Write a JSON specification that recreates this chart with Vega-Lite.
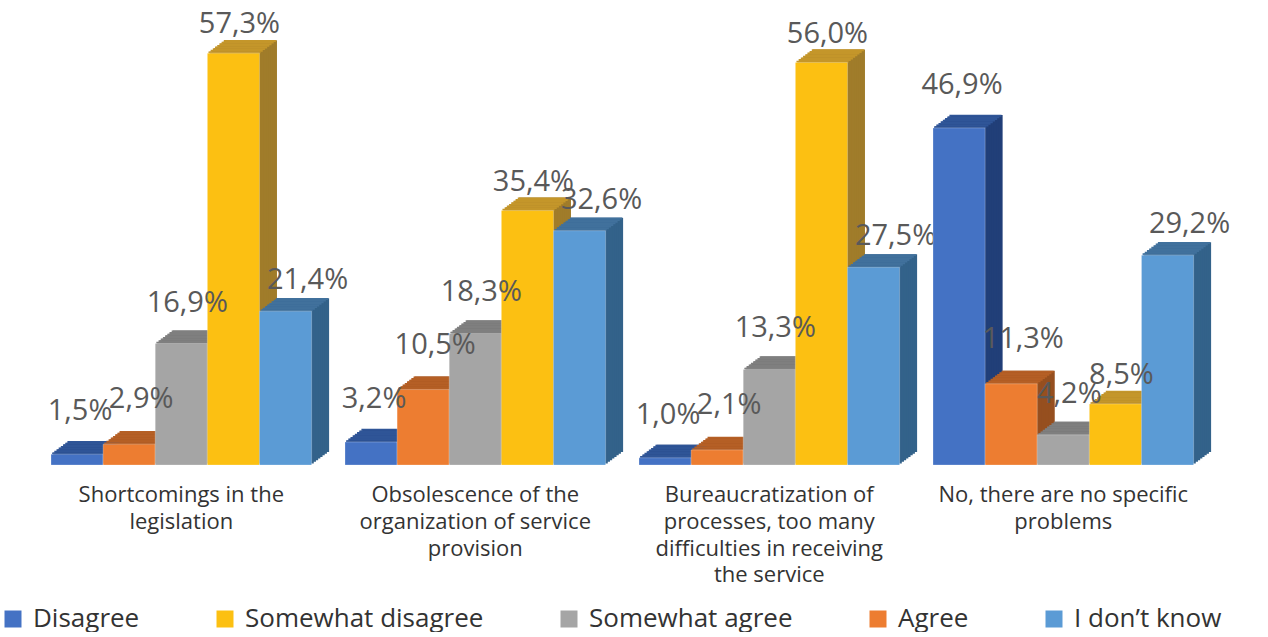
{
  "$schema": "https://vega.github.io/schema/vega-lite/v6.json",
  "padding": {"left": 0, "top": 5, "right": 5, "bottom": 0},
  "bounds": "flush",
  "config": {
    "view": {"stroke": null},
    "font": "Open Sans",
    "locale": {"number": {"decimal": ",", "thousands": ".", "grouping": [3], "currency": ["", " €"]}}
  },
  "data": {"values": [
    {"category": "Shortcomings in the legislation", "series": "Disagree", "value": 0.015},
    {"category": "Shortcomings in the legislation", "series": "Agree", "value": 0.029},
    {"category": "Shortcomings in the legislation", "series": "Somewhat agree", "value": 0.169},
    {"category": "Shortcomings in the legislation", "series": "Somewhat disagree", "value": 0.573},
    {"category": "Shortcomings in the legislation", "series": "I don’t know", "value": 0.214},
    {"category": "Obsolescence of the organization of service provision", "series": "Disagree", "value": 0.032},
    {"category": "Obsolescence of the organization of service provision", "series": "Agree", "value": 0.105},
    {"category": "Obsolescence of the organization of service provision", "series": "Somewhat agree", "value": 0.183},
    {"category": "Obsolescence of the organization of service provision", "series": "Somewhat disagree", "value": 0.354},
    {"category": "Obsolescence of the organization of service provision", "series": "I don’t know", "value": 0.326},
    {"category": "Bureaucratization of processes, too many difficulties in receiving the service", "series": "Disagree", "value": 0.010},
    {"category": "Bureaucratization of processes, too many difficulties in receiving the service", "series": "Agree", "value": 0.021},
    {"category": "Bureaucratization of processes, too many difficulties in receiving the service", "series": "Somewhat agree", "value": 0.133},
    {"category": "Bureaucratization of processes, too many difficulties in receiving the service", "series": "Somewhat disagree", "value": 0.560},
    {"category": "Bureaucratization of processes, too many difficulties in receiving the service", "series": "I don’t know", "value": 0.275},
    {"category": "No, there are no specific problems", "series": "Disagree", "value": 0.469},
    {"category": "No, there are no specific problems", "series": "Agree", "value": 0.113},
    {"category": "No, there are no specific problems", "series": "Somewhat agree", "value": 0.042},
    {"category": "No, there are no specific problems", "series": "Somewhat disagree", "value": 0.085},
    {"category": "No, there are no specific problems", "series": "I don’t know", "value": 0.292}
  ]},
  "facet": {
    "column": {
      "field": "category", "type": "nominal", "title": null,
      "sort": ["Shortcomings in the legislation", "Obsolescence of the organization of service provision", "Bureaucratization of processes, too many difficulties in receiving the service", "No, there are no specific problems"],
      "header": {
        "labelOrient": "bottom", "labelFontSize": 22, "labelColor": "#333333", "labelFont": "Open Sans",
        "labelPadding": 20, "labelLineHeight": 26.8, "labelBaseline": "top",
        "labelExpr": "datum.value === 'Shortcomings in the legislation' ? ['Shortcomings in the', 'legislation'] : datum.value === 'Obsolescence of the organization of service provision' ? ['Obsolescence of the', 'organization of service', 'provision'] : datum.value === 'Bureaucratization of processes, too many difficulties in receiving the service' ? ['Bureaucratization of', 'processes, too many', 'difficulties in receiving', 'the service'] : ['No, there are no specific', 'problems']"
      }
    }
  },
  "spacing": 33,
  "spec": {
    "width": 260.6,
    "height": 460,
    "encoding": {
      "x": {"field": "series", "type": "nominal", "axis": null,
        "scale": {"domain": ["Disagree", "Agree", "Somewhat agree", "Somewhat disagree", "I don’t know"], "paddingInner": 0, "paddingOuter": 0}},
      "y": {"field": "value", "type": "quantitative", "axis": null, "scale": {"domain": [0, 0.64], "nice": false}}
    },
    "layer": [
      {"mark": {"type": "bar", "opacity": 1, "xOffset": 17.5, "yOffset": -13, "y2Offset": -13}, "encoding": {"color": {"condition": [{"test": "datum.series==='Disagree'", "value": "#213F78"}, {"test": "datum.series==='Agree'", "value": "#964F1F"}, {"test": "datum.series==='Somewhat agree'", "value": "#6B6B6B"}, {"test": "datum.series==='Somewhat disagree'", "value": "#A07C2A"}], "value": "#33628A"}}},
      {"mark": {"type": "bar", "opacity": 1, "xOffset": 15.3125, "yOffset": -11.375, "y2Offset": -11.375}, "encoding": {"color": {"condition": [{"test": "datum.series==='Disagree'", "value": "#213F78"}, {"test": "datum.series==='Agree'", "value": "#964F1F"}, {"test": "datum.series==='Somewhat agree'", "value": "#6B6B6B"}, {"test": "datum.series==='Somewhat disagree'", "value": "#A07C2A"}], "value": "#33628A"}}},
      {"mark": {"type": "bar", "opacity": 1, "xOffset": 13.125, "yOffset": -9.75, "y2Offset": -9.75}, "encoding": {"color": {"condition": [{"test": "datum.series==='Disagree'", "value": "#213F78"}, {"test": "datum.series==='Agree'", "value": "#964F1F"}, {"test": "datum.series==='Somewhat agree'", "value": "#6B6B6B"}, {"test": "datum.series==='Somewhat disagree'", "value": "#A07C2A"}], "value": "#33628A"}}},
      {"mark": {"type": "bar", "opacity": 1, "xOffset": 10.9375, "yOffset": -8.125, "y2Offset": -8.125}, "encoding": {"color": {"condition": [{"test": "datum.series==='Disagree'", "value": "#213F78"}, {"test": "datum.series==='Agree'", "value": "#964F1F"}, {"test": "datum.series==='Somewhat agree'", "value": "#6B6B6B"}, {"test": "datum.series==='Somewhat disagree'", "value": "#A07C2A"}], "value": "#33628A"}}},
      {"mark": {"type": "bar", "opacity": 1, "xOffset": 8.75, "yOffset": -6.5, "y2Offset": -6.5}, "encoding": {"color": {"condition": [{"test": "datum.series==='Disagree'", "value": "#213F78"}, {"test": "datum.series==='Agree'", "value": "#964F1F"}, {"test": "datum.series==='Somewhat agree'", "value": "#6B6B6B"}, {"test": "datum.series==='Somewhat disagree'", "value": "#A07C2A"}], "value": "#33628A"}}},
      {"mark": {"type": "bar", "opacity": 1, "xOffset": 6.5625, "yOffset": -4.875, "y2Offset": -4.875}, "encoding": {"color": {"condition": [{"test": "datum.series==='Disagree'", "value": "#213F78"}, {"test": "datum.series==='Agree'", "value": "#964F1F"}, {"test": "datum.series==='Somewhat agree'", "value": "#6B6B6B"}, {"test": "datum.series==='Somewhat disagree'", "value": "#A07C2A"}], "value": "#33628A"}}},
      {"mark": {"type": "bar", "opacity": 1, "xOffset": 4.375, "yOffset": -3.25, "y2Offset": -3.25}, "encoding": {"color": {"condition": [{"test": "datum.series==='Disagree'", "value": "#213F78"}, {"test": "datum.series==='Agree'", "value": "#964F1F"}, {"test": "datum.series==='Somewhat agree'", "value": "#6B6B6B"}, {"test": "datum.series==='Somewhat disagree'", "value": "#A07C2A"}], "value": "#33628A"}}},
      {"mark": {"type": "bar", "opacity": 1, "xOffset": 2.1875, "yOffset": -1.625, "y2Offset": -1.625}, "encoding": {"color": {"condition": [{"test": "datum.series==='Disagree'", "value": "#213F78"}, {"test": "datum.series==='Agree'", "value": "#964F1F"}, {"test": "datum.series==='Somewhat agree'", "value": "#6B6B6B"}, {"test": "datum.series==='Somewhat disagree'", "value": "#A07C2A"}], "value": "#33628A"}}},
      {"mark": {"type": "tick", "orient": "horizontal", "opacity": 1, "size": 52.1, "thickness": 1.9, "xOffset": 16.40625, "yOffset": -12.1875}, "encoding": {"color": {"condition": [{"test": "datum.series==='Disagree'", "value": "#2F5597"}, {"test": "datum.series==='Agree'", "value": "#B55F25"}, {"test": "datum.series==='Somewhat agree'", "value": "#7F7F7F"}, {"test": "datum.series==='Somewhat disagree'", "value": "#C4962A"}], "value": "#41719C"}}},
      {"mark": {"type": "tick", "orient": "horizontal", "opacity": 1, "size": 52.1, "thickness": 1.9, "xOffset": 14.21875, "yOffset": -10.5625}, "encoding": {"color": {"condition": [{"test": "datum.series==='Disagree'", "value": "#2F5597"}, {"test": "datum.series==='Agree'", "value": "#B55F25"}, {"test": "datum.series==='Somewhat agree'", "value": "#7F7F7F"}, {"test": "datum.series==='Somewhat disagree'", "value": "#C4962A"}], "value": "#41719C"}}},
      {"mark": {"type": "tick", "orient": "horizontal", "opacity": 1, "size": 52.1, "thickness": 1.9, "xOffset": 12.03125, "yOffset": -8.9375}, "encoding": {"color": {"condition": [{"test": "datum.series==='Disagree'", "value": "#2F5597"}, {"test": "datum.series==='Agree'", "value": "#B55F25"}, {"test": "datum.series==='Somewhat agree'", "value": "#7F7F7F"}, {"test": "datum.series==='Somewhat disagree'", "value": "#C4962A"}], "value": "#41719C"}}},
      {"mark": {"type": "tick", "orient": "horizontal", "opacity": 1, "size": 52.1, "thickness": 1.9, "xOffset": 9.84375, "yOffset": -7.3125}, "encoding": {"color": {"condition": [{"test": "datum.series==='Disagree'", "value": "#2F5597"}, {"test": "datum.series==='Agree'", "value": "#B55F25"}, {"test": "datum.series==='Somewhat agree'", "value": "#7F7F7F"}, {"test": "datum.series==='Somewhat disagree'", "value": "#C4962A"}], "value": "#41719C"}}},
      {"mark": {"type": "tick", "orient": "horizontal", "opacity": 1, "size": 52.1, "thickness": 1.9, "xOffset": 7.65625, "yOffset": -5.6875}, "encoding": {"color": {"condition": [{"test": "datum.series==='Disagree'", "value": "#2F5597"}, {"test": "datum.series==='Agree'", "value": "#B55F25"}, {"test": "datum.series==='Somewhat agree'", "value": "#7F7F7F"}, {"test": "datum.series==='Somewhat disagree'", "value": "#C4962A"}], "value": "#41719C"}}},
      {"mark": {"type": "tick", "orient": "horizontal", "opacity": 1, "size": 52.1, "thickness": 1.9, "xOffset": 5.46875, "yOffset": -4.0625}, "encoding": {"color": {"condition": [{"test": "datum.series==='Disagree'", "value": "#2F5597"}, {"test": "datum.series==='Agree'", "value": "#B55F25"}, {"test": "datum.series==='Somewhat agree'", "value": "#7F7F7F"}, {"test": "datum.series==='Somewhat disagree'", "value": "#C4962A"}], "value": "#41719C"}}},
      {"mark": {"type": "tick", "orient": "horizontal", "opacity": 1, "size": 52.1, "thickness": 1.9, "xOffset": 3.28125, "yOffset": -2.4375}, "encoding": {"color": {"condition": [{"test": "datum.series==='Disagree'", "value": "#2F5597"}, {"test": "datum.series==='Agree'", "value": "#B55F25"}, {"test": "datum.series==='Somewhat agree'", "value": "#7F7F7F"}, {"test": "datum.series==='Somewhat disagree'", "value": "#C4962A"}], "value": "#41719C"}}},
      {"mark": {"type": "tick", "orient": "horizontal", "opacity": 1, "size": 52.1, "thickness": 1.9, "xOffset": 1.09375, "yOffset": -0.8125}, "encoding": {"color": {"condition": [{"test": "datum.series==='Disagree'", "value": "#2F5597"}, {"test": "datum.series==='Agree'", "value": "#B55F25"}, {"test": "datum.series==='Somewhat agree'", "value": "#7F7F7F"}, {"test": "datum.series==='Somewhat disagree'", "value": "#C4962A"}], "value": "#41719C"}}},
      {"mark": {"type": "bar", "opacity": 1, "stroke": "#ffffff", "strokeOpacity": 0.25, "strokeWidth": 1},
        "encoding": {"color": {"field": "series", "type": "nominal",
          "scale": {"domain": ["Disagree", "Somewhat disagree", "Somewhat agree", "Agree", "I don’t know"], "range": ["#4472C4", "#FCC012", "#A5A5A5", "#ED7D31", "#5B9BD5"]},
          "legend": {"title": null, "orient": "none", "legendX": -51, "legendY": 601, "direction": "horizontal",
            "symbolType": "square", "symbolSize": 289, "symbolStrokeWidth": 0, "symbolOpacity": 1,
            "labelFontSize": 26, "labelFont": "Open Sans", "labelColor": "#333333", "labelOffset": 7, "columnPadding": 72, "padding": 0, "labelLimit": 400}}}},
      {"transform": [{"filter": "datum.series === 'Disagree'"}], "mark": {"type": "text", "fontSize": 29, "font": "Open Sans", "fill": "#595959", "align": "center", "baseline": "alphabetic", "dx": 3, "dy": -34}, "encoding": {"text": {"field": "value", "type": "quantitative", "format": ".1%"}}},
      {"transform": [{"filter": "datum.series === 'Agree'"}], "mark": {"type": "text", "fontSize": 29, "font": "Open Sans", "fill": "#595959", "align": "center", "baseline": "alphabetic", "dx": 12, "dy": -36}, "encoding": {"text": {"field": "value", "type": "quantitative", "format": ".1%"}}},
      {"transform": [{"filter": "datum.series === 'Somewhat agree'"}], "mark": {"type": "text", "fontSize": 29, "font": "Open Sans", "fill": "#595959", "align": "center", "baseline": "alphabetic", "dx": 6, "dy": -32}, "encoding": {"text": {"field": "value", "type": "quantitative", "format": ".1%"}}},
      {"transform": [{"filter": "datum.series === 'Somewhat disagree'"}], "mark": {"type": "text", "fontSize": 29, "font": "Open Sans", "fill": "#595959", "align": "center", "baseline": "alphabetic", "dx": 6, "dy": -20}, "encoding": {"text": {"field": "value", "type": "quantitative", "format": ".1%"}}},
      {"transform": [{"filter": "datum.series === 'I don’t know'"}], "mark": {"type": "text", "fontSize": 29, "font": "Open Sans", "fill": "#595959", "align": "center", "baseline": "alphabetic", "dx": 22, "dy": -22}, "encoding": {"text": {"field": "value", "type": "quantitative", "format": ".1%"}}}
    ]
  }
}
